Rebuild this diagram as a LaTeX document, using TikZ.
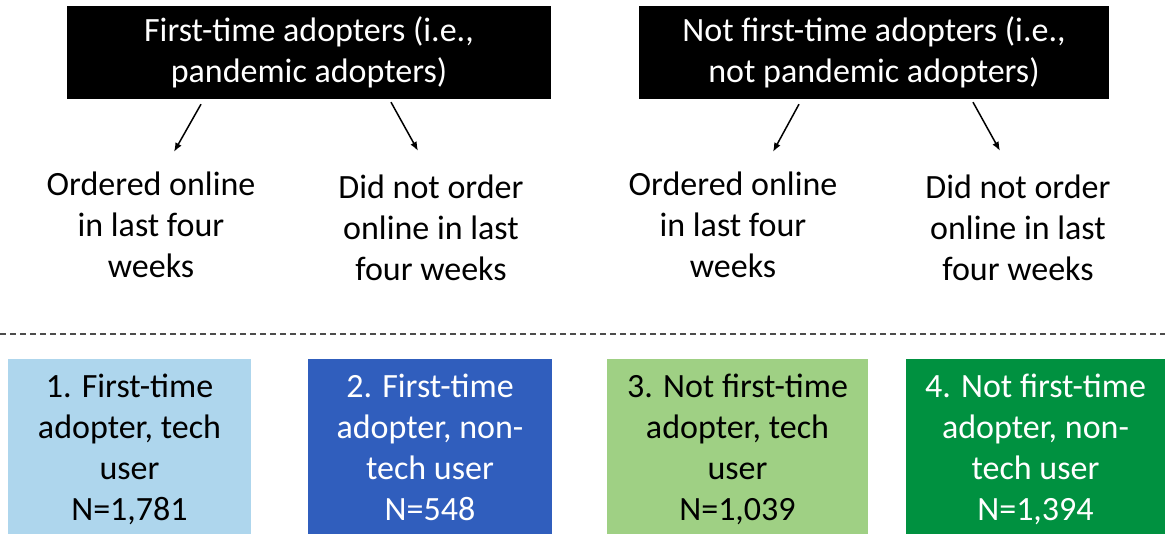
\documentclass[tikz,border=0pt]{standalone}
\usepackage{fontspec}
\setmainfont{Carlito}
\usepackage{tikz}
\usetikzlibrary{arrows.meta}

\definecolor{lightblue}{RGB}{174,214,237}
\definecolor{darkblue}{RGB}{48,94,189}
\definecolor{lightgreen}{RGB}{159,208,132}
\definecolor{darkgreen}{RGB}{0,145,64}

\begin{document}
\begin{tikzpicture}[x=1pt, y=-1pt,
        every node/.style={font=\fontsize{34}{41}\selectfont, align=center, inner sep=0pt},
        headbox/.style={fill=black, text=white, minimum height=93pt},
        groupbox/.style={minimum height=181pt},
        arr/.style={-{Latex[length=9pt,width=7pt]}, line width=1.5pt},
        divider/.style={dash pattern=on 6pt off 4pt, line width=1.2pt, black!70}]
        \useasboundingbox (0,0) rectangle (1165,534);

        % Adopter type
        \node[headbox, minimum width=484pt] (first) at (309,52.5) {First-time adopters (i.e.,\\ pandemic adopters)};
        \node[headbox, minimum width=470pt] (notfirst) at (874,52.5) {Not first-time adopters (i.e.,\\ not pandemic adopters)};

        % Ordered online or not
        \node (ord1) at (151,225) {Ordered online\\ in last four\\ weeks};
        \node (notord1) at (431,228) {Did not order\\ online in last\\ four weeks};
        \node (ord2) at (733,225) {Ordered online\\ in last four\\ weeks};
        \node (notord2) at (1018,228) {Did not order\\ online in last\\ four weeks};

        \draw[arr] ([xshift=-108pt,yshift=-5pt]first.south) -- ([xshift=23pt,yshift=20pt]ord1.north);
        \draw[arr] ([xshift=82pt,yshift=-3pt]first.south) -- ([xshift=-13pt,yshift=24pt]notord1.north);
        \draw[arr] ([xshift=-75pt,yshift=-5pt]notfirst.south) -- ([xshift=40pt,yshift=20pt]ord2.north);
        \draw[arr] ([xshift=99pt,yshift=-3pt]notfirst.south) -- ([xshift=-18pt,yshift=24pt]notord2.north);

        % Divider
        \coordinate (divl) at (0,334);
        \coordinate (divr) at (1165,334);
        \draw[divider] (divl) -- (divr);

        % Groups
        \node[groupbox, fill=lightblue, minimum width=243pt] (grp1) at (129.5,449.5) {1. First-time\\ adopter, tech\\ user\\ N=1,781};
        \node[groupbox, fill=darkblue, text=white, minimum width=244pt] (grp2) at (430,449.5) {2. First-time\\ adopter, non-\\ tech user\\ N=548\vphantom{,}};
        \node[groupbox, fill=lightgreen, minimum width=261pt] (grp3) at (737.5,449.5) {3. Not first-time\\ adopter, tech\\ user\\ N=1,039};
        \node[groupbox, fill=darkgreen, text=white, minimum width=259pt] (grp4) at (1035.5,449.5) {4. Not first-time\\ adopter, non-\\ tech user\\ N=1,394};
    \end{tikzpicture}
\end{document}
